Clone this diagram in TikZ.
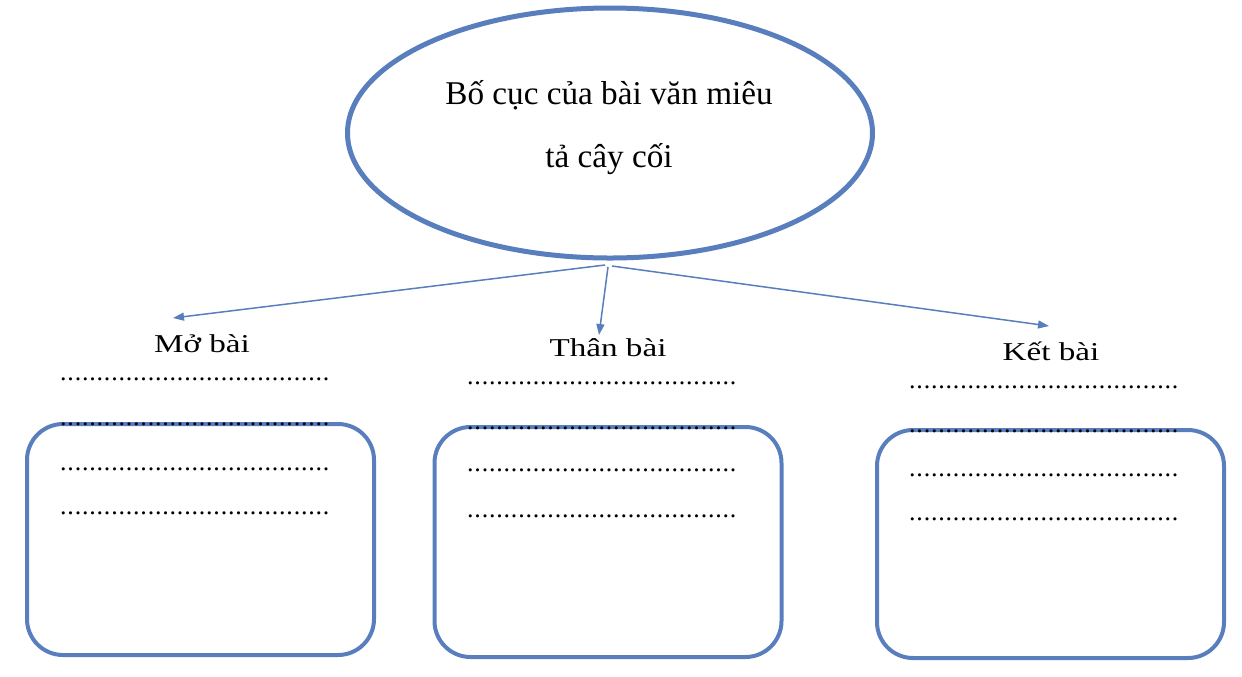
\documentclass[tikz,border=0pt]{standalone}
\usepackage{fontspec}
\setmainfont{Liberation Serif}
\usetikzlibrary{arrows.meta,shapes.geometric}
\definecolor{outl}{RGB}{88,126,190}
\newcommand\onedot{.\kern0.4pt}
\newcommand\fivedots{\onedot\onedot\onedot\onedot\onedot}
\newcommand\dotrow{\fivedots\fivedots\fivedots\fivedots\fivedots\fivedots\fivedots\onedot.}
\begin{document}
\begin{tikzpicture}[x=0.5pt,y=-0.5pt,
  ell/.style={ellipse,draw=outl,line width=2.5pt,minimum width=262.5pt,minimum height=125pt,inner sep=0pt},
  boxn/.style={rectangle,draw=outl,line width=2pt,rounded corners=18pt,minimum width=173.5pt,inner sep=0pt},
  ttext/.style={anchor=base,inner sep=0pt,font=\fontsize{16.6pt}{20pt}\selectfont},
  lab/.style={anchor=base,inner sep=0pt,font=\fontsize{12.85pt}{15pt}\selectfont},
  dotsn/.style={anchor=base west,inner sep=0pt,font=\fontsize{13pt}{15pt}\selectfont},
  conn/.style={draw=outl,line width=0.75pt,-{Triangle[length=5.5pt,width=4pt]}}]
\useasboundingbox (0,0) rectangle (1242,676);
% central ellipse
\node[ell] (top) at (610,133) {};
\node[ttext] (l1) at (609,104) {Bố cục của bài văn miêu};
\node[ttext] (l2) at (609,167) {tả cây cối};
% arrows
\coordinate (s1) at (605,265);
\coordinate (s2) at (608,267);
\coordinate (s3) at (612,266);
\coordinate (t1) at (173,318);
\coordinate (t2) at (599,335);
\coordinate (t3) at (1049,326);
\draw[conn] (s1) -- (t1);
\draw[conn] (s2) -- (t2);
\draw[conn] (s3) -- (t3);
% labels
\node[lab] (mo) at (202,352) {\scalebox{1.29}[1]{Mở bài}};
\node[lab] (than) at (608,356) {\scalebox{1.29}[1]{Thân bài}};
\node[lab] (ket) at (1051,360) {\scalebox{1.29}[1]{Kết bài}};
% boxes
\node[boxn,minimum height=115.5pt] (b1) at (200.5,539.5) {};
\node[boxn,minimum height=115pt] (b2) at (608,542) {};
\node[boxn,minimum height=114pt] (b3) at (1050.5,544) {};
% dotted lines
\foreach \yy [count=\i] in {380.5,425.5,470.5,514.5} {
  \node[dotsn] (da\i) at (59.8,\yy) {\dotrow};
}
\foreach \yy [count=\i] in {384.5,429.5,471.5,517.5} {
  \node[dotsn] (db\i) at (466.8,\yy) {\dotrow};
}
\foreach \yy [count=\i] in {388.5,432.5,476.5,520.5} {
  \node[dotsn] (dc\i) at (908.8,\yy) {\dotrow};
}
\end{tikzpicture}
\end{document}
